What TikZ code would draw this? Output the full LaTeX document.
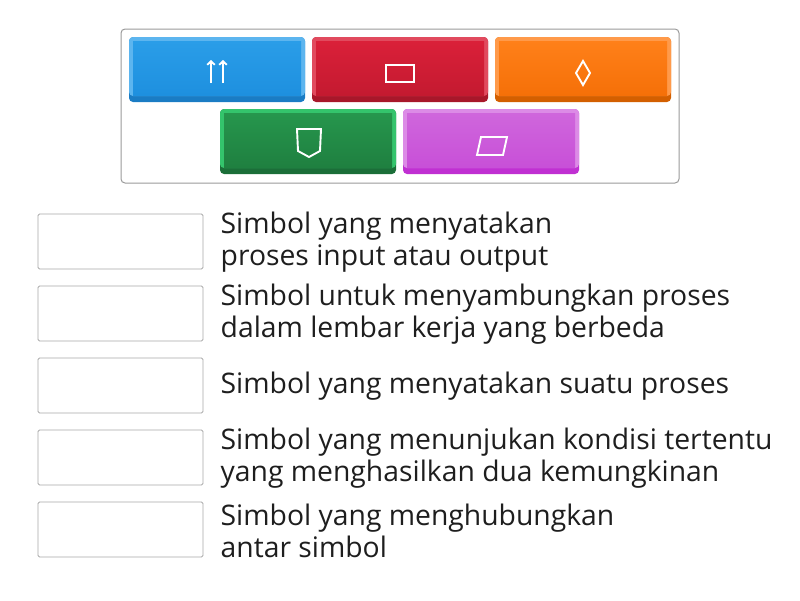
\documentclass[tikz,border=0pt]{standalone}
\usepackage{fontspec}
\setmainfont{Open Sans}
\usetikzlibrary{arrows.meta}
\definecolor{framegray}{HTML}{9A9A9A}
\definecolor{boxgray}{HTML}{A8A8A8}
\definecolor{txt}{HTML}{1E1E1E}
\definecolor{bl}{HTML}{2A9DE8}\definecolor{blmid}{HTML}{1E90DF}\definecolor{bllight}{HTML}{5CB5EF}\definecolor{bldark}{HTML}{1A7CC4}
\definecolor{rd}{HTML}{DA2039}\definecolor{rdmid}{HTML}{C41A30}\definecolor{rdlight}{HTML}{E14A5E}\definecolor{rddark}{HTML}{A8172A}
\definecolor{og}{HTML}{FF8019}\definecolor{ogmid}{HTML}{F57008}\definecolor{oglight}{HTML}{FF9A4A}\definecolor{ogdark}{HTML}{D35F00}
\definecolor{gr}{HTML}{26964D}\definecolor{grmid}{HTML}{1F8040}\definecolor{grlight}{HTML}{34C46C}\definecolor{grdark}{HTML}{1B6E38}
\definecolor{pu}{HTML}{CF66DC}\definecolor{pumid}{HTML}{C850D8}\definecolor{pulight}{HTML}{DC8BE6}\definecolor{pudark}{HTML}{C030D2}
\newcommand\quizbtn[4]{%
  \fill[#4dark, rounded corners=4] (#2,#3) rectangle ++(176,65);
  \fill[#4light, rounded corners=4] (#2,#3) rectangle ++(176,59);
  \shade[top color=#4, bottom color=#4mid] (#2+4,#3+4) rectangle ++(168,54);
  \node[inner sep=0, minimum width=176pt, minimum height=65pt] (#1) at (#2+88,#3+32.5) {};
}
\tikzset{
  ansbox/.style={draw=boxgray, line width=0.8pt, rounded corners=1.5pt, fill=white, minimum width=165pt, minimum height=55pt, inner sep=0},
  lbl/.style={anchor=west, align=left, inner sep=0, text=txt, font=\fontsize{28.3}{32}\selectfont},
  sym/.style={draw=white, line width=1.9pt, line join=miter},
}
\begin{document}
\begin{tikzpicture}[x=1pt,y=-1pt]
\useasboundingbox (0,0) rectangle (800,600);
\draw[framegray, line width=1pt, rounded corners=4] (121,29) rectangle (679,183);
\quizbtn{b1}{129}{37}{bl}
\quizbtn{b2}{312}{37}{rd}
\quizbtn{b3}{495}{37}{og}
\quizbtn{b4}{220}{109}{gr}
\quizbtn{b5}{403}{109}{pu}
% symbols
\draw[sym, -{Straight Barb[length=3.5pt,width=7.5pt,line width=1.9pt]}] (211,83) -- (211,60);
\draw[sym, -{Straight Barb[length=3.5pt,width=7.5pt,line width=1.9pt]}] (223,83) -- (223,60);
\draw[sym] (386,65) rectangle (414,82);
\draw[sym] (583,61) -- (590,73) -- (583,85) -- (576,73) -- cycle;
\draw[sym] (297,129) -- (321,129) -- (320,151) -- (309,157) -- (298,151) -- cycle;
\draw[sym] (481,137) -- (507,137) -- (503,155) -- (477,155) -- cycle;
% answer boxes
\node[ansbox] (a1) at (120.5,241.5) {};
\node[ansbox] (a2) at (120.5,313.5) {};
\node[ansbox] (a3) at (120.5,385.5) {};
\node[ansbox] (a4) at (120.5,457.5) {};
\node[ansbox] (a5) at (120.5,529.5) {};
% labels
\node[lbl] (t1) at (220.5,242.5) {Simbol yang menyatakan\\proses input atau output};
\node[lbl] (t2) at (220.5,314.5) {Simbol untuk menyambungkan proses\\dalam lembar kerja yang berbeda};
\node[lbl] (t3) at (220.5,386.5) {Simbol yang menyatakan suatu proses};
\node[lbl] (t4) at (220.5,458.5) {Simbol yang menunjukan kondisi tertentu\\yang menghasilkan dua kemungkinan};
\node[lbl] (t5) at (220.5,530.5) {Simbol yang menghubungkan\\antar simbol};
\end{tikzpicture}
\end{document}
